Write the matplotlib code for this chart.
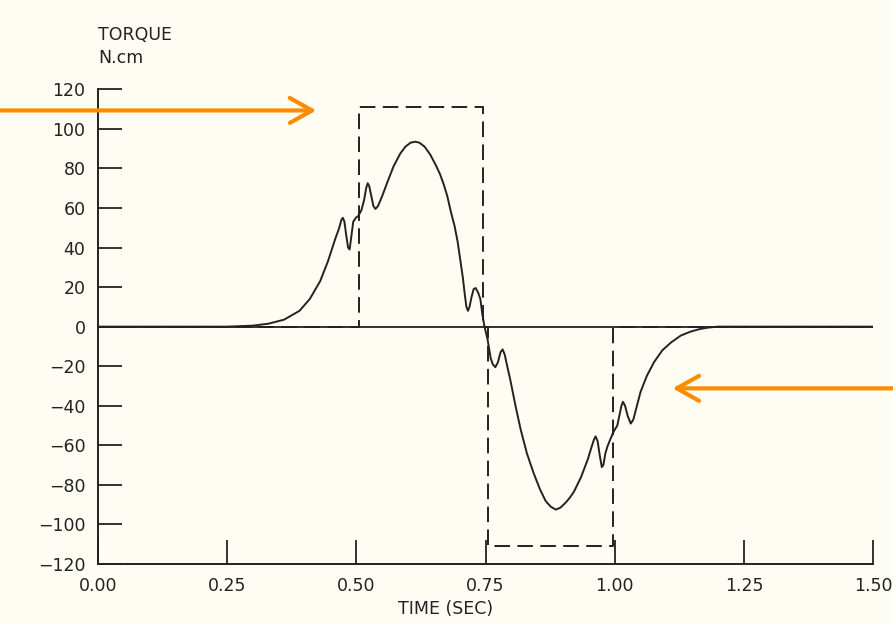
import numpy as np
import matplotlib
matplotlib.use("Agg")
import matplotlib.pyplot as plt

t_meas = [0.00, 0.25, 0.30, 0.33, 0.36, 0.39, 0.41, 0.43, 0.445, 0.46, 0.465,
          0.468, 0.471, 0.474, 0.477, 0.480, 0.484, 0.487, 0.490, 0.494, 0.499,
          0.504, 0.510, 0.515, 0.519, 0.522, 0.525, 0.529, 0.533, 0.537, 0.542,
          0.550, 0.560, 0.572, 0.585, 0.595, 0.605, 0.614, 0.622, 0.632, 0.643,
          0.655, 0.662, 0.669, 0.676, 0.683, 0.690, 0.696, 0.701, 0.706, 0.710,
          0.713, 0.716, 0.719, 0.723, 0.727, 0.731, 0.736, 0.740, 0.744, 0.748,
          0.754, 0.760, 0.764, 0.769, 0.774, 0.779, 0.783, 0.787, 0.792, 0.798,
          0.808, 0.818, 0.830, 0.843, 0.855, 0.866, 0.876, 0.886, 0.895, 0.905,
          0.913, 0.921, 0.935, 0.948, 0.955, 0.960, 0.963, 0.967, 0.971, 0.975,
          0.978, 0.982, 0.986, 0.993, 0.998, 1.005, 1.009, 1.013, 1.016, 1.020,
          1.025, 1.031, 1.036, 1.042, 1.050, 1.062, 1.076, 1.092, 1.109, 1.128,
          1.147, 1.165, 1.180, 1.20, 1.50]
v_meas = [0.0, 0.0, 0.5, 1.5, 3.5, 8.0, 14.0, 23.0, 33.0, 45.0, 48.5,
          51.0, 54.0, 55.0, 53.0, 47.0, 40.0, 39.0, 45.0, 53.0, 55.0,
          56.0, 59.0, 64.0, 70.0, 72.5, 71.0, 66.0, 61.0, 59.5, 61.0,
          66.0, 73.0, 81.0, 87.5, 91.0, 93.0, 93.5, 93.0, 91.0, 87.0,
          81.0, 77.0, 72.0, 66.0, 58.0, 51.0, 43.0, 34.0, 25.0, 16.0,
          10.0, 8.0, 10.0, 15.0, 19.0, 19.5, 17.0, 14.0, 6.0, 0.0,
          -6.5, -16.0, -19.0, -20.5, -18.0, -13.0, -11.5, -14.0, -20.0, -27.0,
          -40.0, -52.0, -64.0, -74.0, -82.0, -88.0, -91.0, -92.5, -91.5, -89.0,
          -86.5, -83.5, -76.0, -67.0, -61.0, -57.0, -55.5, -58.0, -65.0, -71.0,
          -70.0, -64.0, -60.5, -56.0, -53.0, -50.0, -45.0, -40.0, -38.0, -40.0,
          -45.0, -49.0, -47.0, -41.0, -33.0, -25.0, -18.0, -12.0, -8.0, -4.5,
          -2.5, -1.2, -0.5, 0.0, 0.0]

# commanded torque (dashed pulses)
t_cmd = [0.00, 0.505, 0.505, 0.745, 0.745, 0.755, 0.755, 0.997, 0.997, 1.50]
v_cmd = [0.0, 0.0, 111.0, 111.0, 0.0, 0.0, -111.0, -111.0, 0.0, 0.0]

xticks = [0.00, 0.25, 0.50, 0.75, 1.00, 1.25, 1.50]
yticks = list(range(-120, 121, 20))

bg = "#fdfdf4"
ink = "#222222"
orange = "#ff8c00"

plt.rcParams["font.family"] = ["DejaVu Sans"]

fig = plt.figure(figsize=(8.93, 6.23), dpi=100, facecolor=bg)
ax = fig.add_axes([0.1097, 0.0947, 0.868, 0.762], facecolor=bg)

ax.axhline(0, color=ink, lw=1.3, zorder=2)
ax.plot(t_cmd, v_cmd, color=ink, lw=1.4, dashes=(8, 3.8), zorder=3)
ax.plot(t_meas, v_meas, color=ink, lw=1.4, zorder=4)

ax.set_xlim(0, 1.5)
ax.set_ylim(-120, 120)
ax.set_xticks(xticks)
ax.set_xticklabels([f"{x:.2f}" for x in xticks])
ax.set_yticks(yticks)
ax.tick_params(direction="in", length=17, width=1.3, color=ink,
               labelsize=12.5, labelcolor=ink)
ax.tick_params(axis="x", pad=9)
ax.tick_params(axis="y", pad=9)
for s in ["top", "right"]:
    ax.spines[s].set_visible(False)
for s in ["left", "bottom"]:
    ax.spines[s].set_color(ink)
    ax.spines[s].set_linewidth(1.4)

ax.set_xlabel("TIME (SEC)", fontsize=12.5, color=ink)
ax.xaxis.set_label_coords(0.449, -0.076)
fig.text(0.1097, 0.929, "TORQUE", fontsize=12.5, color=ink, ha="left", va="bottom")
fig.text(0.1097, 0.893, "N.cm", fontsize=12.5, color=ink, ha="left", va="bottom")

# orange highlight arrows
arrow = dict(arrowstyle="->,head_length=0.8,head_width=0.45", color=orange,
             lw=3, mutation_scale=20, shrinkA=0, shrinkB=0)
ax.annotate("", xy=(0.4225, 109.3), xytext=(-0.20, 109.3),
            arrowprops=arrow, annotation_clip=False)
ax.annotate("", xy=(1.112, -31.2), xytext=(1.56, -31.2),
            arrowprops=arrow, annotation_clip=False)

fig.savefig("out.png", dpi=100, facecolor=bg)
